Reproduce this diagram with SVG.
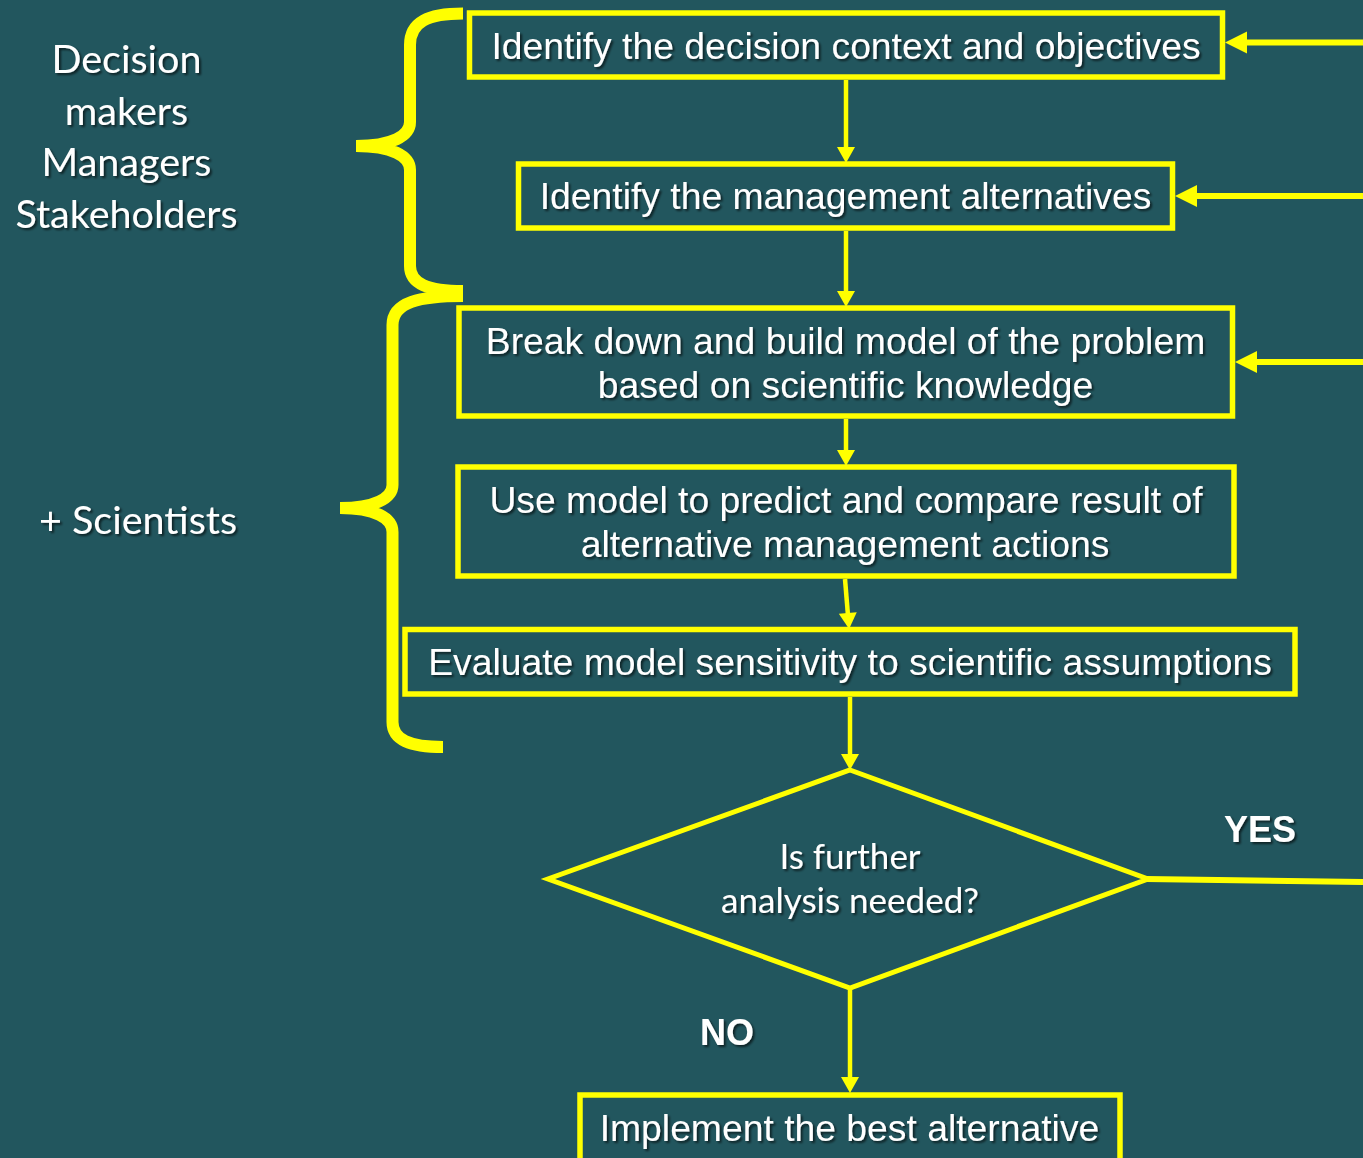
<svg xmlns="http://www.w3.org/2000/svg" width="1363" height="1158" viewBox="0 0 1363 1158">
<defs>
<filter id="sh" x="-10%" y="-30%" width="120%" height="160%">
<feDropShadow dx="2" dy="2" stdDeviation="1.2" flood-color="#000" flood-opacity="0.6"/>
</filter>
<marker id="ah" markerUnits="userSpaceOnUse" markerWidth="16" markerHeight="18" refX="5" refY="9" orient="auto" overflow="visible">
<path d="M0,0 L16,9 L0,18 z" fill="#FFFF00"/>
</marker>
<marker id="ahL" markerUnits="userSpaceOnUse" markerWidth="22" markerHeight="22" refX="7" refY="11" orient="auto" overflow="visible">
<path d="M0,0 L22,11 L0,22 z" fill="#FFFF00"/>
</marker>
</defs>
<style>
.box{fill:none;stroke:#FFFF00;stroke-width:5.5}
.t{font-family:"Liberation Sans",Arial,sans-serif;font-size:37.3px;fill:#FFFFFF;text-anchor:middle;filter:url(#sh)}
.c{font-family:Lato,"Open Sans",sans-serif;fill:#FFFFFF;text-anchor:middle;filter:url(#sh)}
.b{font-family:"Liberation Sans",Arial,sans-serif;font-size:36px;font-weight:bold;fill:#FFFFFF;text-anchor:middle;filter:url(#sh)}
.v{stroke:#FFFF00;stroke-width:4.5;fill:none;marker-end:url(#ah)}
.h{stroke:#FFFF00;stroke-width:6;fill:none;marker-end:url(#ahL)}
.brace{stroke:#FFFF00;stroke-width:12;fill:none;stroke-linecap:butt}
</style>
<rect x="0" y="0" width="1363" height="1158" fill="#22565E"/>

<g id="labels">
<text class="c" font-size="39.5" x="126.5" y="73">Decision</text>
<text class="c" font-size="39.5" x="126.5" y="124.5">makers</text>
<text class="c" font-size="39.5" x="126.5" y="176">Managers</text>
<text class="c" font-size="39.5" x="126.5" y="227.5">Stakeholders</text>
<text class="c" font-size="39.5" x="138" y="534">+ Scientists</text>
</g>

<g id="braces">
<path class="brace" d="M463,13.5 C428,13.5 410,22 410,45 L410,122 C410,136 392,146 356,146 M356,146 C392,146 410,156 410,170 L410,266 C410,284 428,291 463,291"/>
<path class="brace" d="M463,296 C420,296 392.5,302 392.5,325 L392.5,485 C392.5,498 375,508 340,508 M340,508 C375,508 392.5,518 392.5,532 L392.5,722 C392.5,740 410,747 443,747"/>
</g>

<g id="connectors">
<line class="v" x1="846" y1="80" x2="846" y2="152"/>
<line class="v" x1="846" y1="231" x2="846" y2="296"/>
<line class="v" x1="846" y1="419" x2="846" y2="455"/>
<line class="v" x1="845" y1="579" x2="848.2" y2="618"/>
<line class="v" x1="850" y1="697" x2="850" y2="759"/>
<line class="v" x1="850" y1="988" x2="850" y2="1082"/>
<line class="h" x1="1363" y1="42.5" x2="1240" y2="42.5"/>
<line class="h" x1="1363" y1="196" x2="1190" y2="196"/>
<line class="h" x1="1363" y1="362" x2="1250" y2="362"/>
<line stroke="#FFFF00" stroke-width="6" x1="1146" y1="879" x2="1363" y2="882"/>
</g>

<g id="n1">
<rect class="box" x="469.5" y="13" width="753" height="64"/>
<text class="t" x="846" y="58.5">Identify the decision context and objectives</text>
</g>
<g id="n2">
<rect class="box" x="518.5" y="164" width="654" height="64"/>
<text class="t" x="845.5" y="209">Identify the management alternatives</text>
</g>
<g id="n3">
<rect class="box" x="459" y="308" width="773.5" height="108"/>
<text class="t" x="845.5" y="354">Break down and build model of the problem</text>
<text class="t" x="845.5" y="398">based on scientific knowledge</text>
</g>
<g id="n4">
<rect class="box" x="458" y="467" width="776" height="109"/>
<text class="t" x="846" y="513">Use model to predict and compare result of</text>
<text class="t" x="845" y="557">alternative management actions</text>
</g>
<g id="n5">
<rect class="box" x="405" y="629.5" width="890" height="64.5"/>
<text class="t" x="850" y="675">Evaluate model sensitivity to scientific assumptions</text>
</g>
<g id="n6">
<polygon points="850,770 1148,879 850,988 548,879" fill="none" stroke="#FFFF00" stroke-width="5"/>
<text class="c" font-size="35" x="850" y="869">Is further</text>
<text class="c" font-size="35" x="850" y="913">analysis needed?</text>
</g>
<g id="n7">
<rect class="box" x="580" y="1095" width="540" height="70"/>
<text class="t" x="849.5" y="1141">Implement the best alternative</text>
</g>
<g id="edge-labels">
<text class="b" x="1260" y="842">YES</text>
<text class="b" x="727" y="1045">NO</text>
</g>
</svg>
